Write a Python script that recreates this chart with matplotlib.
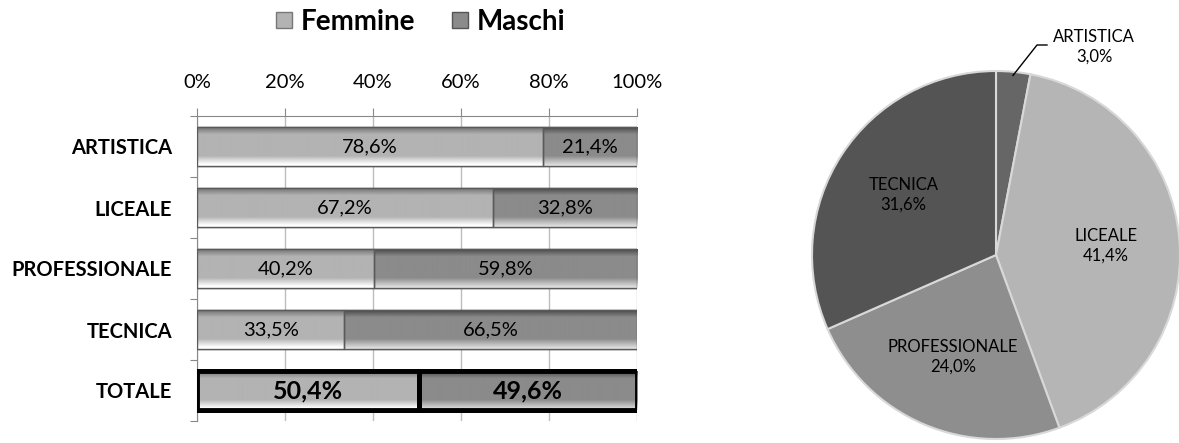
import numpy as np
import matplotlib.pyplot as plt
from matplotlib.lines import Line2D
from matplotlib.colors import to_rgb

plt.rcParams['font.family'] = ['Lato', 'DejaVu Sans']

# data
categorie = ["ARTISTICA", "LICEALE", "PROFESSIONALE", "TECNICA", "TOTALE"]
femmine = [78.6, 67.2, 40.2, 33.5, 50.4]
maschi = [21.4, 32.8, 59.8, 66.5, 49.6]

pie_labels = ["ARTISTICA", "LICEALE", "PROFESSIONALE", "TECNICA"]
pie_values = [3.0, 41.4, 24.0, 31.6]

col_f = "#b3b3b3"
col_m = "#8b8b8b"
pie_colors = ["#666666", "#b5b5b5", "#8e8e8e", "#545454"]


def bevel(ax, patch, color):
    # vertical bevel: light band on top, dark band at the bottom
    base = np.array(to_rgb(color))
    t = np.linspace(0, 1, 40)
    shade = np.zeros_like(t)
    shade[t < 0.25] = 0.35 * (1 - t[t < 0.25] / 0.25)
    shade[t > 0.8] = -0.28 * (t[t > 0.8] - 0.8) / 0.2
    img = np.clip(base[None, :] + shade[:, None], 0, 1)[:, None, :]
    x0, y0 = patch.get_x(), patch.get_y()
    w, h = patch.get_width(), patch.get_height()
    im = ax.imshow(img, extent=(x0, x0 + w, y0, y0 + h), aspect="auto",
                   origin="upper", zorder=3.5, interpolation="bilinear")
    im.set_clip_path(patch)


W, H = 1179, 443
fig = plt.figure(figsize=(W / 100, H / 100), dpi=100)

# ---- stacked bar chart ----
ax = fig.add_axes([197 / W, 1 - 421 / H, 440 / W, 305 / H])
y = np.arange(len(categorie))
h = 0.65
for i in range(len(categorie)):
    tot = categorie[i] == "TOTALE"
    lw = 3.5 if tot else 1.0
    ec = "black" if tot else "#5a5a5a"
    bf = ax.barh(y[i], femmine[i], height=h, color=col_f, edgecolor=ec, linewidth=lw,
                 zorder=3)[0]
    bm = ax.barh(y[i], maschi[i], left=femmine[i], height=h, color=col_m, edgecolor=ec,
                 linewidth=lw, zorder=3)[0]
    bevel(ax, bf, col_f)
    bevel(ax, bm, col_m)
    # redraw outline above gradient
    for b in (bf, bm):
        ax.add_patch(plt.Rectangle((b.get_x(), b.get_y()), b.get_width(), b.get_height(),
                                   fill=False, edgecolor=ec, linewidth=lw, zorder=4))
    fw = "bold" if tot else "normal"
    fs = 18 if tot else 14.5
    ax.text(femmine[i] / 2, y[i], f"{femmine[i]:.1f}%".replace(".", ","),
            ha="center", va="center", fontsize=fs, fontweight=fw, zorder=5)
    ax.text(femmine[i] + maschi[i] / 2, y[i], f"{maschi[i]:.1f}%".replace(".", ","),
            ha="center", va="center", fontsize=fs, fontweight=fw, zorder=5)

ax.set_xlim(0, 100)
ax.set_ylim(len(categorie) - 0.5, -0.5)
ax.xaxis.tick_top()
ax.set_xticks(np.arange(0, 101, 20))
ax.set_xticklabels([f"{v}%" for v in range(0, 101, 20)], fontsize=14.5)
ax.tick_params(axis="x", length=6, color="#888888", pad=12)
ax.set_yticks(np.arange(-0.5, len(categorie), 1))
ax.set_yticklabels([])
ax.set_yticks(y, minor=True)
ax.set_yticklabels(categorie, minor=True, fontsize=14.5, fontweight="bold")
ax.tick_params(axis="y", which="major", length=5, color="#888888")
ax.tick_params(axis="y", which="minor", length=0, pad=18)
ax.grid(axis="x", color="#bdbdbd", linewidth=1, zorder=0)
for s in ["right", "bottom"]:
    ax.spines[s].set_visible(False)
ax.spines["top"].set_color("#888888")
ax.spines["left"].set_color("#888888")

handles = [Line2D([], [], marker="s", linestyle="", markersize=12, color=col_f,
                  markeredgecolor="#777777"),
           Line2D([], [], marker="s", linestyle="", markersize=12, color=col_m,
                  markeredgecolor="#555555")]
fig.legend(handles, ["Femmine", "Maschi"], loc="center", ncol=2,
           bbox_to_anchor=(418 / W, 1 - 22 / H), frameon=False,
           prop={"weight": "bold", "size": 20}, handletextpad=0.1, columnspacing=1.1,
           handlelength=1.0)

# ---- pie chart ----
cx, cy, r = 996, 255, 184
pax = fig.add_axes([790 / W, 0, (W - 790) / W, 1])
wedges, _ = pax.pie(pie_values, colors=pie_colors, startangle=90, counterclock=False,
                    radius=1, wedgeprops={"edgecolor": "#d8d8d8", "linewidth": 1.5})
for w in wedges:
    w.set_clip_on(False)
pax.set_aspect("auto")
pax.set_xlim((790 - cx) / r, (W - cx) / r)
pax.set_ylim(-(H - cy) / r, cy / r)
pax.axis("off")

for wd, lab, v in zip(wedges, pie_labels, pie_values):
    txt = f"{lab}\n{v:.1f}%".replace(".", ",")
    ang = np.deg2rad((wd.theta1 + wd.theta2) / 2)
    if lab == "ARTISTICA":
        px, py = np.cos(ang), np.sin(ang)
        tx, ty = (1094 - cx) / r, (cy - 47) / r
        pax.plot([px * 0.98, (1037 - cx) / r, (1047 - cx) / r],
                 [py * 0.98, (cy - 45) / r, (cy - 45) / r], color="black", lw=1,
                 clip_on=False)
        pax.text(tx, ty, txt, ha="center", va="center", fontsize=12,
                 linespacing=1.3)
    else:
        d = 0.6
        pax.text(d * np.cos(ang), d * np.sin(ang), txt, ha="center", va="center",
                 fontsize=12, linespacing=1.3)

fig.savefig("out.png", dpi=100)
